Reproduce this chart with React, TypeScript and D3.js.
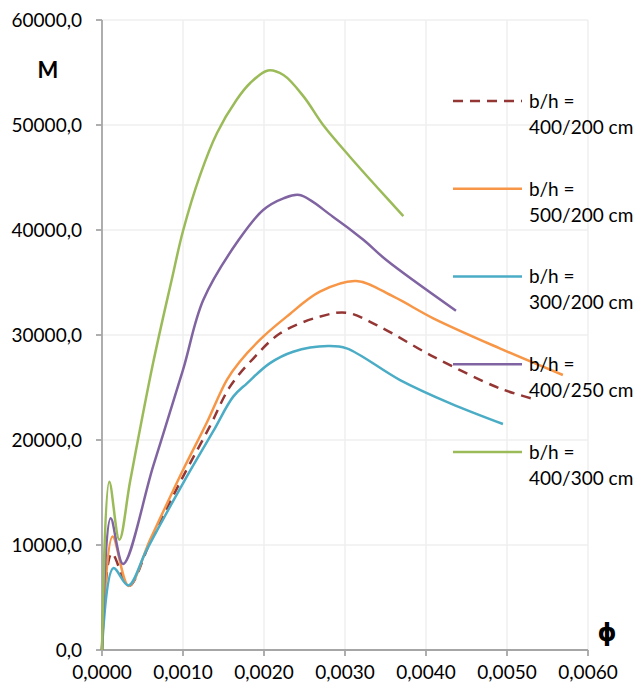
import React from "react";
import * as d3 from "d3";

const xTicks = [0, 0.001, 0.002, 0.003, 0.004, 0.005, 0.006];
const yTicks = [0, 10000, 20000, 30000, 40000, 50000, 60000];

const seriesNames = ["b/h = 400/200 cm", "b/h = 500/200 cm", "b/h = 300/200 cm", "b/h = 400/250 cm", "b/h = 400/300 cm"];
const seriesColors = ["#943634", "#F79646", "#4BACC6", "#8064A2", "#9BBB59"];

const phi400_200 = [0, 0.00012, 0.00033, 0.0006, 0.0010, 0.00133, 0.00158, 0.00187, 0.0022, 0.00269, 0.00302, 0.00339, 0.00409, 0.00491, 0.0053];
const m400_200 = [0, 9200, 6100, 10380, 16510, 21270, 25080, 27780, 30160, 31750, 32120, 30950, 27940, 24920, 23970];

const phi500_200 = [0, 0.00013, 0.00033, 0.0006, 0.0010, 0.00129, 0.00154, 0.0017, 0.00199, 0.00228, 0.00269, 0.00314, 0.0036, 0.00409, 0.00491, 0.00569];
const m500_200 = [0, 10800, 6100, 10610, 17140, 21590, 25710, 27460, 29840, 31750, 34130, 35140, 33650, 31590, 28730, 26190];

const phi300_200 = [0, 0.00014, 0.000325, 0.00055, 0.0010, 0.00137, 0.00162, 0.00179, 0.00207, 0.00236, 0.00279, 0.00302, 0.00368, 0.0043, 0.00495];
const m300_200 = [0, 7800, 6150, 9520, 15870, 20790, 24130, 25400, 27300, 28410, 28950, 28730, 25710, 23490, 21520];

const phi400_250 = [0, 0.000107, 0.00026, 0.00063, 0.0010, 0.00125, 0.00168, 0.00199, 0.00224, 0.00244, 0.00285, 0.00323, 0.00351, 0.00437];
const m400_250 = [0, 12540, 8200, 17460, 26670, 33330, 38970, 41900, 43010, 43330, 41270, 39050, 37140, 32310];

const phi400_300 = [0, 0.00009, 0.000214, 0.00035, 0.00063, 0.00086, 0.0010, 0.00121, 0.00142, 0.00166, 0.00183, 0.00205, 0.00224, 0.00249, 0.00273, 0.00306, 0.00339, 0.00372];
const m400_300 = [0, 16030, 10500, 16190, 27300, 35240, 39900, 45200, 49240, 52380, 54000, 55200, 54760, 52700, 50000, 46980, 44120, 41330];

const seriesPhi = [phi400_200, phi500_200, phi300_200, phi400_250, phi400_300];
const seriesM = [m400_200, m500_200, m300_200, m400_250, m400_300];

const fmtX = (v: number) => v.toFixed(4).replace(".", ",");
const fmtY = (v: number) => v.toFixed(1).replace(".", ",");

export default function App() {
  const W = 635, H = 687;
  const x = d3.scaleLinear().domain([0, 0.006]).range([102, 588]);
  const y = d3.scaleLinear().domain([0, 60000]).range([650, 20]);
  const line = d3
    .line<[number, number]>()
    .x((d) => x(d[0]))
    .y((d) => y(d[1]))
    .curve(d3.curveCatmullRom.alpha(0.5));
  const font = "Lato, 'Open Sans', sans-serif";
  const axisColor = "#a6a6a6";
  const gridColor = "#efefef";
  const fs = 19;

  return (
    <svg width={W} height={H} style={{ position: "absolute", left: 0, top: 0, background: "#fff" }} fontFamily={font}>
      {yTicks.map((t) => (
        <line key={"gy" + t} x1={x(0)} x2={x(0.006)} y1={y(t)} y2={y(t)} stroke={gridColor} strokeWidth={1.5} />
      ))}
      {xTicks.map((t) => (
        <line key={"gx" + t} x1={x(t)} x2={x(t)} y1={y(0)} y2={y(60000)} stroke={gridColor} strokeWidth={1.5} />
      ))}
      <line x1={x(0)} x2={x(0)} y1={y(0) + 0.5} y2={y(60000)} stroke={axisColor} strokeWidth={1.8} />
      <line x1={x(0)} x2={x(0.006)} y1={y(0)} y2={y(0)} stroke={axisColor} strokeWidth={1.8} />
      {yTicks.map((t) => (
        <g key={"ty" + t}>
          <line x1={x(0) - 6} x2={x(0)} y1={y(t)} y2={y(t)} stroke={axisColor} strokeWidth={1.8} />
          <text x={82} y={y(t)} dy="0.36em" textAnchor="end" fontSize={fs} fill="#000">
            {fmtY(t)}
          </text>
        </g>
      ))}
      {xTicks.map((t) => (
        <g key={"tx" + t}>
          <line x1={x(t)} x2={x(t)} y1={y(0)} y2={y(0) + 6} stroke={axisColor} strokeWidth={1.8} />
          <text x={x(t)} y={679} textAnchor="middle" fontSize={fs} fill="#000">
            {fmtX(t)}
          </text>
        </g>
      ))}
      {seriesPhi.map((ph, i) => {
        const pts = ph.map((p, j) => [p, seriesM[i][j]] as [number, number]);
        return (
          <path
            key={"s" + i}
            d={line(pts) || ""}
            fill="none"
            stroke={seriesColors[i]}
            strokeWidth={2.5}
            strokeDasharray={i === 0 ? "10,7" : undefined}
            strokeLinejoin="round"
          />
        );
      })}
      <text x={48} y={78} textAnchor="middle" fontSize={22} fontWeight="bold" fill="#000">M</text>
      <text x={607} y={641} textAnchor="middle" fontSize={24} fontWeight="bold" fill="#000" fontFamily="'DejaVu Sans', sans-serif">ϕ</text>
      {seriesNames.map((name, i) => {
        const ly = 101 + i * 87.75;
        const parts = name.split("= ");
        return (
          <g key={"l" + i}>
            <line x1={453} x2={522} y1={ly} y2={ly} stroke={seriesColors[i]} strokeWidth={2.5} strokeDasharray={i === 0 ? "10,7" : undefined} />
            <text x={529} y={ly} dy="0.36em" fontSize={fs} fill="#000">{parts[0] + "="}</text>
            <text x={529} y={ly + 26} dy="0.36em" fontSize={fs} fill="#000">{parts[1]}</text>
          </g>
        );
      })}
    </svg>
  );
}
